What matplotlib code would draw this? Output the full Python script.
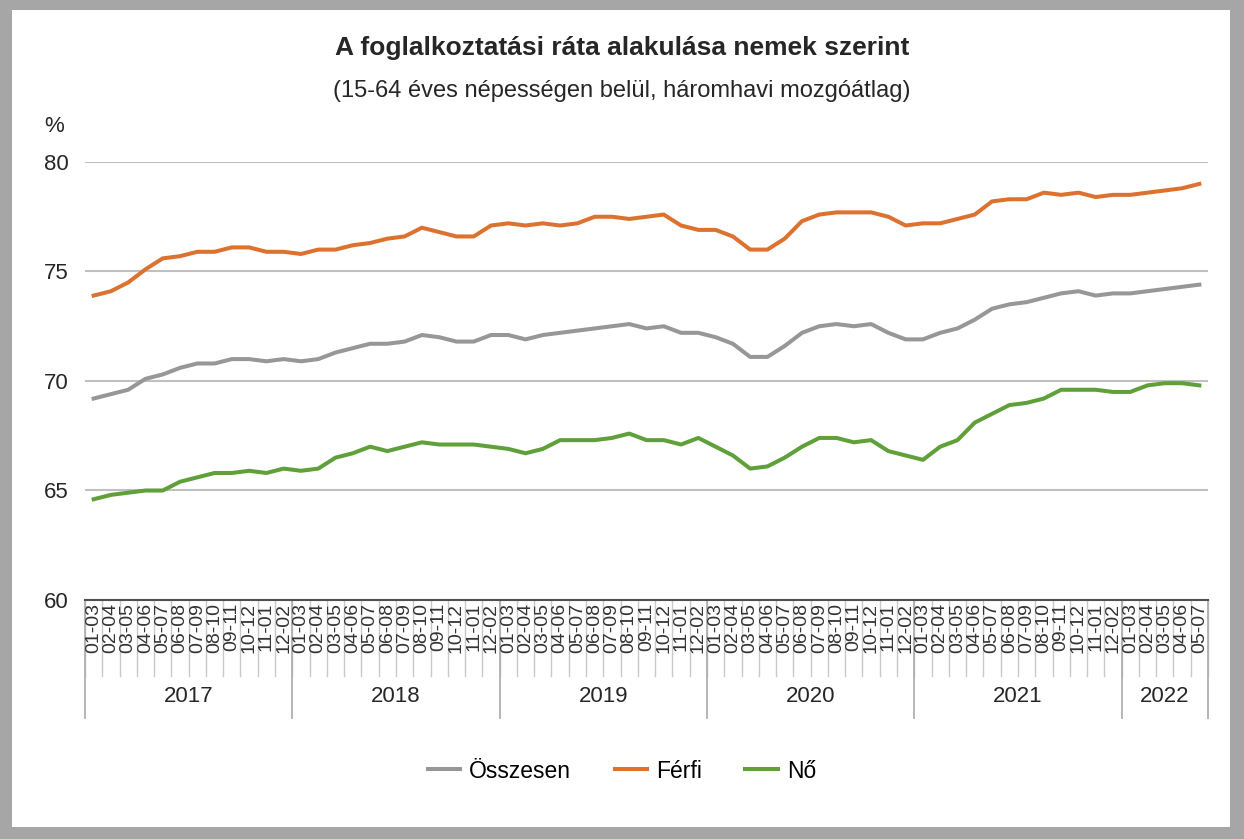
import matplotlib
matplotlib.use("Agg")
import matplotlib.pyplot as plt
from matplotlib.patches import Rectangle

plt.rcParams['font.family'] = ['Liberation Sans', 'DejaVu Sans']

years = ["2017", "2018", "2019", "2020", "2021", "2022"]
months_per_year = [12, 12, 12, 12, 12, 5]
period_labels = ["01-03", "02-04", "03-05", "04-06", "05-07", "06-08",
                 "07-09", "08-10", "09-11", "10-12", "11-01", "12-02"]

osszesen = [69.2, 69.4, 69.6, 70.1, 70.3, 70.6, 70.8, 70.8, 71.0, 71.0, 70.9, 71.0,
            70.9, 71.0, 71.3, 71.5, 71.7, 71.7, 71.8, 72.1, 72.0, 71.8, 71.8, 72.1,
            72.1, 71.9, 72.1, 72.2, 72.3, 72.4, 72.5, 72.6, 72.4, 72.5, 72.2, 72.2,
            72.0, 71.7, 71.1, 71.1, 71.6, 72.2, 72.5, 72.6, 72.5, 72.6, 72.2, 71.9,
            71.9, 72.2, 72.4, 72.8, 73.3, 73.5, 73.6, 73.8, 74.0, 74.1, 73.9, 74.0,
            74.0, 74.1, 74.2, 74.3, 74.4]
ferfi = [73.9, 74.1, 74.5, 75.1, 75.6, 75.7, 75.9, 75.9, 76.1, 76.1, 75.9, 75.9,
         75.8, 76.0, 76.0, 76.2, 76.3, 76.5, 76.6, 77.0, 76.8, 76.6, 76.6, 77.1,
         77.2, 77.1, 77.2, 77.1, 77.2, 77.5, 77.5, 77.4, 77.5, 77.6, 77.1, 76.9,
         76.9, 76.6, 76.0, 76.0, 76.5, 77.3, 77.6, 77.7, 77.7, 77.7, 77.5, 77.1,
         77.2, 77.2, 77.4, 77.6, 78.2, 78.3, 78.3, 78.6, 78.5, 78.6, 78.4, 78.5,
         78.5, 78.6, 78.7, 78.8, 79.0]
no = [64.6, 64.8, 64.9, 65.0, 65.0, 65.4, 65.6, 65.8, 65.8, 65.9, 65.8, 66.0,
      65.9, 66.0, 66.5, 66.7, 67.0, 66.8, 67.0, 67.2, 67.1, 67.1, 67.1, 67.0,
      66.9, 66.7, 66.9, 67.3, 67.3, 67.3, 67.4, 67.6, 67.3, 67.3, 67.1, 67.4,
      67.0, 66.6, 66.0, 66.1, 66.5, 67.0, 67.4, 67.4, 67.2, 67.3, 66.8, 66.6,
      66.4, 67.0, 67.3, 68.1, 68.5, 68.9, 69.0, 69.2, 69.6, 69.6, 69.6, 69.5,
      69.5, 69.8, 69.9, 69.9, 69.8]

tick_labels = []
for n in months_per_year:
    tick_labels += period_labels[:n]
x = list(range(len(tick_labels)))

W, H = 1244, 839
fig = plt.figure(figsize=(W / 100, H / 100), dpi=100)

# outer gray frame
fig.patches.append(Rectangle((0, 0), 1, 1, transform=fig.transFigure,
                             facecolor='#a6a6a6', edgecolor='none', zorder=-10))
fig.patches.append(Rectangle((12 / W, 12 / H), 1 - 26 / W, 1 - 22 / H,
                             transform=fig.transFigure, facecolor='white',
                             edgecolor='none', zorder=-9))

left, right, bottom, top = 85, 1208, 600, 162
ax = fig.add_axes([left / W, 1 - bottom / H, (right - left) / W, (bottom - top) / H])
ax.set_facecolor('none')

c_gray, c_orange, c_green = '#979797', '#dc7230', '#60a03a'
lw = 2.9
ax.plot(x, osszesen, color=c_gray, lw=lw, label='Összesen', solid_joinstyle='round')
ax.plot(x, ferfi, color=c_orange, lw=lw, label='Férfi', solid_joinstyle='round')
ax.plot(x, no, color=c_green, lw=lw, label='Nő', solid_joinstyle='round')

ax.set_xlim(-0.5, len(x) - 0.5)
ax.set_ylim(60, 80)
ax.set_yticks([60, 65, 70, 75, 80])
ax.yaxis.grid(True, color='#c0c0c0', lw=1.5)
ax.set_axisbelow(True)
for s in ['left', 'right', 'top']:
    ax.spines[s].set_visible(False)
ax.spines['bottom'].set_color('#505050')
ax.spines['bottom'].set_linewidth(1.5)
ax.tick_params(axis='y', length=0, labelsize=16, pad=12, colors='#262626')
ax.set_xticks(x)
ax.set_xticklabels(tick_labels, rotation=90, fontsize=14, color='#333333')
ax.tick_params(axis='x', length=0, pad=2)

trans = ax.get_xaxis_transform()
axh = bottom - top
short = -76 / axh
long_ = -118 / axh
# category boundary lines
for i in range(len(x) + 1):
    ax.plot([i - 0.5, i - 0.5], [0, short], transform=trans, color='#c8c8c8',
            lw=1, clip_on=False, zorder=0)
# year boundary lines and labels
pos = 0
bounds = [0]
for n in months_per_year:
    pos += n
    bounds.append(pos)
for b in bounds:
    ax.plot([b - 0.5, b - 0.5], [0, long_], transform=trans, color='#b0b0b0',
            lw=1.3, clip_on=False, zorder=0)
for yname, a, b in zip(years, bounds[:-1], bounds[1:]):
    ax.text((a + b - 1) / 2, -97 / axh, yname, transform=trans, ha='center',
            va='center', fontsize=16, color='#262626')

fig.text(0.5, 1 - 48 / H, 'A foglalkoztatási ráta alakulása nemek szerint',
         ha='center', va='center', fontsize=19, fontweight='bold', color='#262626')
fig.text(0.5, 1 - 91 / H, '(15-64 éves népességen belül, háromhavi mozgóátlag)',
         ha='center', va='center', fontsize=17, color='#262626')
fig.text(54 / W, 1 - 127 / H, '%', ha='center', va='center', fontsize=16,
         color='#262626')

fig.legend(loc='center', bbox_to_anchor=(0.5, 1 - 771 / H), ncol=3, frameon=False,
           fontsize=16.5, handlelength=1.4, columnspacing=1.9, handletextpad=0.4)

fig.savefig('out.png', dpi=100)
